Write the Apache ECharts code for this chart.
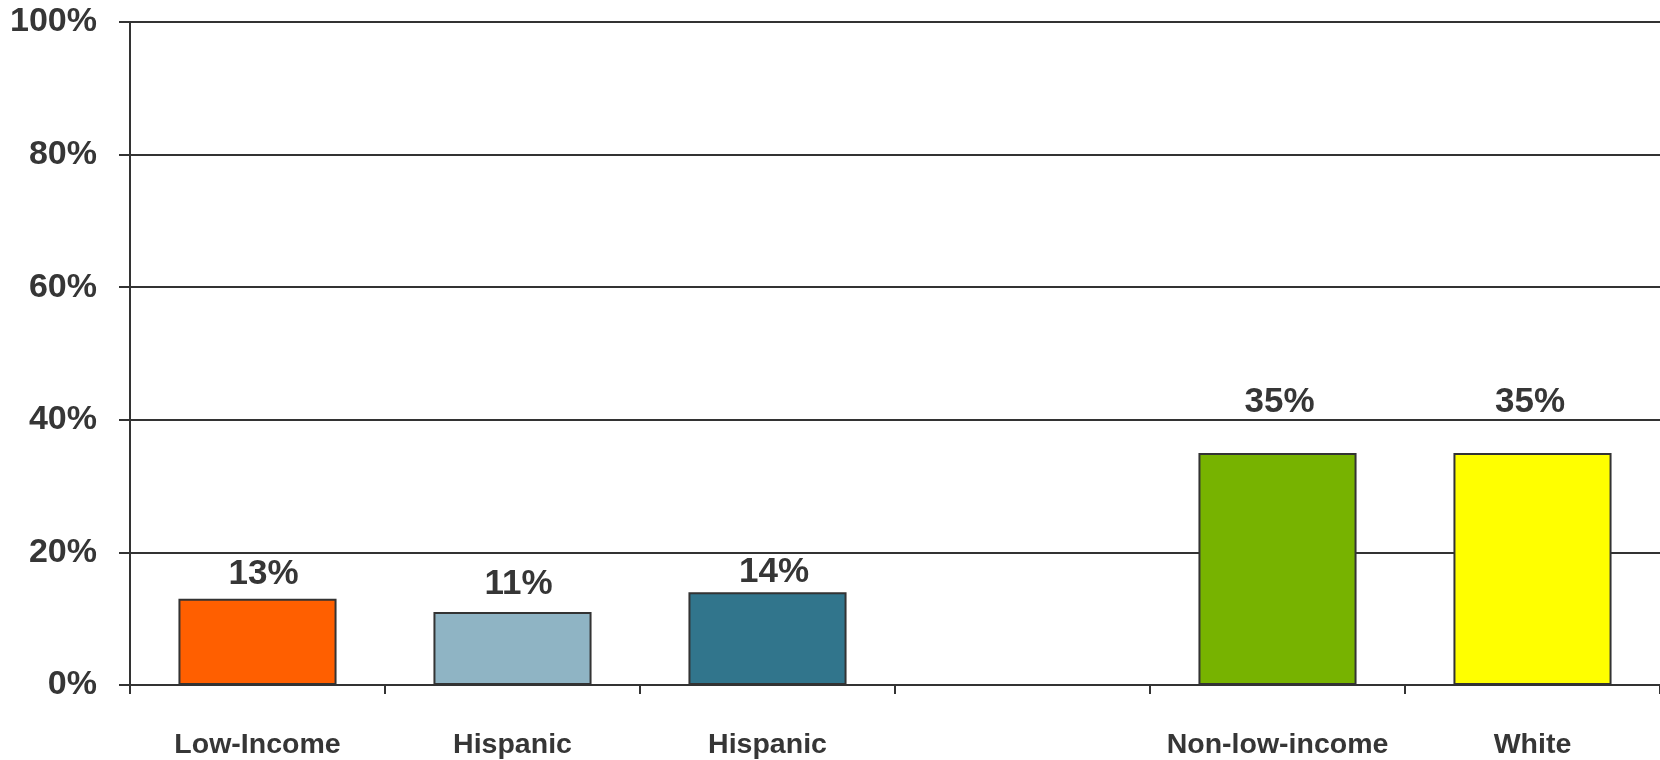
<!DOCTYPE html>
<html>
<head>
<meta charset="utf-8">
<script src="https://cdn.jsdelivr.net/npm/echarts@6/dist/echarts.min.js"></script>
<style>
html,body{margin:0;padding:0;background:#fff;}
#chart{width:1660px;height:760px;}
</style>
</head>
<body>
<div id="chart"></div>
<script>
const categories = ['Low-Income', 'Hispanic', 'Hispanic', '', 'Non-low-income', 'White'];
const values = [13, 11, 14, null, 35, 35];
const yTicks = [0, 20, 40, 60, 80, 100];

// styles (kept separate from data)
const barColors = ['#FF5F00', '#8FB4C4', '#31758C', '#cccccc', '#77B300', '#FFFF00'];
const labelOffsets = [[6, 0], [6, -3.5], [6.5, 5], [0, 0], [2, -26], [-2.5, -26]];
const FONT = '"Liberation Sans", Arial, sans-serif';
const TEXT = '#363636';
const LINE = '#333333';

const chart = echarts.init(document.getElementById('chart'));
chart.setOption({
  animation: false,
  grid: { left: 130, top: 22, width: 1533, height: 666, containLabel: false },
  xAxis: {
    type: 'category',
    data: categories,
    axisLine: { show: true, lineStyle: { color: LINE, width: 2 } },
    axisTick: { show: true, length: 9, lineStyle: { color: LINE, width: 2 } },
    axisLabel: { margin: 46, fontSize: 28.5, fontWeight: 'bold', fontFamily: FONT, color: TEXT, interval: 0 }
  },
  yAxis: {
    type: 'value',
    min: yTicks[0],
    max: yTicks[yTicks.length - 1],
    interval: yTicks[1] - yTicks[0],
    axisLine: { show: true, lineStyle: { color: LINE, width: 2 } },
    axisTick: { show: true, length: 11, lineStyle: { color: LINE, width: 2 } },
    axisLabel: { margin: 33, fontSize: 34, fontWeight: 'bold', fontFamily: FONT, color: TEXT, formatter: '{value}%' },
    splitLine: { show: true, lineStyle: { color: LINE, width: 2 } }
  },
  series: [{
    type: 'bar',
    barWidth: '62%',
    data: values.map((v, i) => ({
      value: v,
      itemStyle: { color: barColors[i], borderColor: '#333', borderWidth: 2 },
      label: { offset: labelOffsets[i] }
    })),
    label: {
      show: true,
      position: 'top',
      distance: 7,
      formatter: p => (p.value == null ? '' : p.value + '%'),
      fontSize: 35,
      fontWeight: 'bold',
      fontFamily: FONT,
      color: TEXT
    }
  }]
});
</script>
</body>
</html>
